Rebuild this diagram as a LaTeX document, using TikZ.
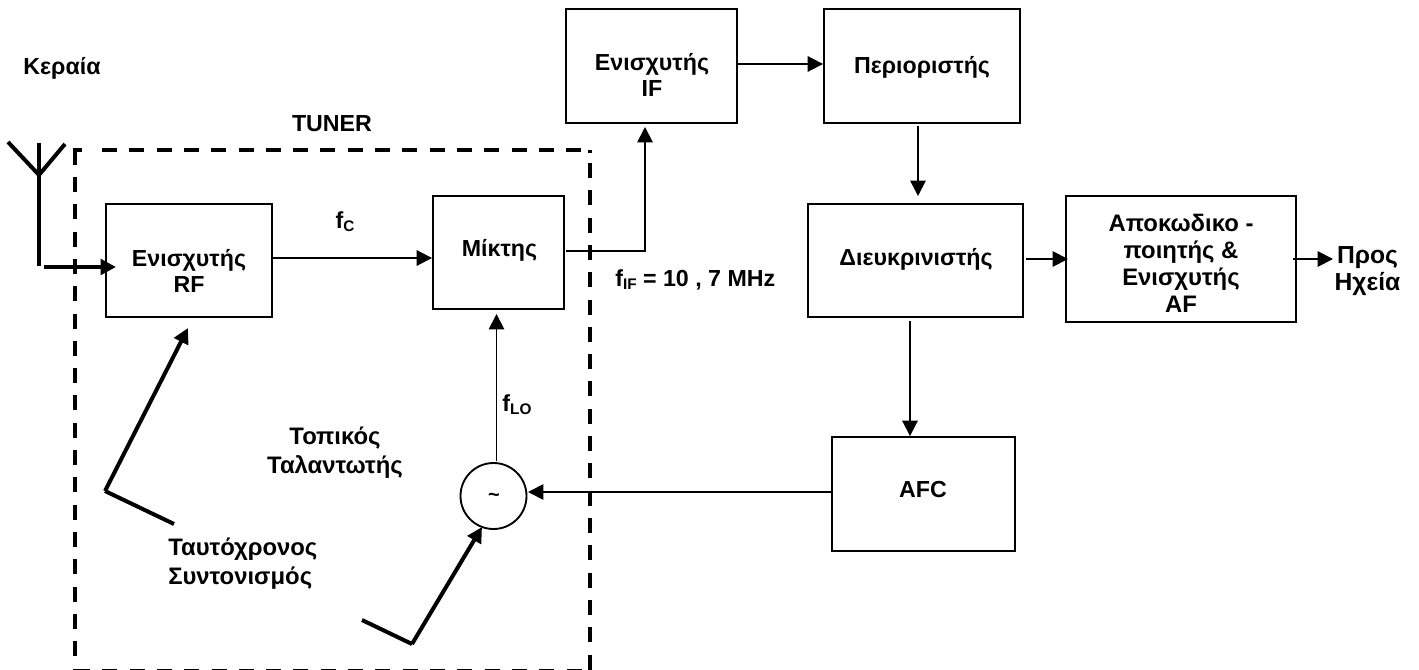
\documentclass[tikz,border=0pt]{standalone}
\usepackage{fontspec}
\setmainfont{Liberation Sans}
\usetikzlibrary{arrows.meta}
\newcommand{\subs}[1]{\raisebox{-2.5pt}{\fontsize{11.5}{12}\selectfont #1}}
\tikzset{
  x=0.75pt,y=-0.75pt,
  lab/.style={font=\fontsize{17.4}{20}\selectfont\bfseries,align=center,inner sep=0pt},
  labwide/.style={font=\fontsize{17.9}{21.7}\selectfont\bfseries,align=center,inner sep=0pt},
  labdec/.style={font=\fontsize{17.9}{20.3}\selectfont\bfseries,align=center,inner sep=0pt},
  arr/.style={line width=1.4pt,-{Triangle[length=11.5pt,width=11.5pt]}},
  thickarr/.style={line width=3pt,-{Triangle[length=11.5pt,width=11.5pt]}},
  thickline/.style={line width=3pt},
  tunerline/.style={line width=3pt,dash pattern=on 11.25pt off 9.23pt},
  tunersolid/.style={line width=3pt},
}
\newcommand{\blk}[5]{\node[draw=black,line width=1.4pt,inner sep=0pt,minimum width=#3*0.75pt,minimum height=#4*0.75pt] (#5) at (#1,#2) {};}
\begin{document}
\begin{tikzpicture}
\useasboundingbox (0,0) rectangle (1419,670);
\clip (0,0) rectangle (1419,670);
% level coordinates
\coordinate (yB) at (0,258);
\coordinate (yD) at (0,64);
\coordinate (yE) at (0,492);
\coordinate (xI) at (910,0);
% blocks
\blk{189}{260.5}{166}{113}{rf}
\blk{498.5}{252.5}{131}{113}{mix}
\blk{651.5}{66}{171}{114}{ifa}
\blk{922}{66}{196}{114}{lim}
\blk{915.5}{260.5}{215}{113}{disc}
\blk{1181}{259}{230}{126}{dec}
\blk{923.5}{494}{183}{114}{afc}
\node[draw=black,line width=1.4pt,circle,minimum size=49.5pt,inner sep=0pt] (osc) at (493.5,496) {};
\node[font=\fontsize{15}{16}\selectfont\bfseries,inner sep=0pt] (tilde) at (494,497) {\char`\~};
% TUNER frame
\coordinate (c1) at (82,150);
\coordinate (c2) at (75,150);
\coordinate (c3) at (75,165);
\coordinate (t1) at (75,177);
\coordinate (t2) at (75,669);
\coordinate (t3) at (102,150);
\coordinate (t4) at (585,150);
\coordinate (t5) at (590,163);
\coordinate (t6) at (590,670);
\coordinate (t7) at (75,671);
\coordinate (t8) at (585,671);
\coordinate (d1) at (590,150);
\coordinate (d2) at (590,153.5);
\draw[tunersolid] (c1) -- (c2) -- (c3);
\draw[tunersolid] (d1) -- (d2);
\draw[tunerline] (t1) -- (t2);
\draw[tunerline] (t3) -- (t4);
\draw[tunerline] (t5) -- (t6);
\draw[tunerline] (t7) -- (t8);
% antenna
\coordinate (an1) at (8,142);
\coordinate (an2) at (39,175);
\coordinate (an3) at (65,144);
\coordinate (an4) at (39,143);
\coordinate (an5) at (39,266);
\coordinate (an6) at (44,267);
\coordinate (an7) at (116,267);
\draw[thickline] (an1) -- (an2) -- (an3);
\draw[thickline] (an4) -- (an5);
\draw[thickarr] (an6) -- (an7);
% connectors
\draw[arr] (rf.east |- yB) -- (mix.west |- yB);
\coordinate (ifin) at (645,127);
\coordinate (mixout) at (566,251);
\draw[arr] (mixout) -| (ifin);
\draw[arr] (ifa.east |- yD) -- (lim.west |- yD);
\coordinate (limout) at (918,126);
\coordinate (discin) at (918,196);
\draw[arr] (limout) -- (discin);
\coordinate (discout) at (1026,259);
\coordinate (decin) at (1068,259);
\draw[arr] (discout) -- (decin);
\coordinate (decout) at (1293,259);
\coordinate (spk) at (1333,259);
\draw[arr] (decout) -- (spk);
\coordinate (discout2) at (910,321);
\draw[arr] (discout2) -- (afc.north -| xI);
\coordinate (oscin) at (528,492);
\draw[arr] (afc.west |- yE) -- (oscin);
\coordinate (oscout) at (496.5,461);
\coordinate (mixin) at (496.5,314);
\draw[arr] (oscout) -- (mixin);
% tuning lines
\coordinate (k1) at (105,491);
\coordinate (k2) at (188,328);
\coordinate (k3) at (174,524);
\coordinate (k4) at (412,644);
\coordinate (k5) at (482,527);
\coordinate (k6) at (362,620);
\draw[thickarr] (k1) -- (k2);
\draw[thickline] (k1) -- (k3);
\draw[thickarr] (k4) -- (k5);
\draw[thickline] (k4) -- (k6);
% labels
\node[lab] (l1) at (62,68) {Κεραία};
\node[lab] (l2) at (332,124) {TUNER};
\node[lab] (l3) at (345,222) {f\subs{C}};
\node[lab] (l4) at (189,271) {Ενισχυτής\\RF};
\node[lab] (l5) at (499.5,250) {Μίκτης};
\node[lab] (l6) at (517,405) {f\subs{LO}};
\node[labwide] (l7) at (335,453) {Τοπικός\\Ταλαντωτής};
\node[labwide,align=left,anchor=west] (l8) at (168,564) {Ταυτόχρονος\\Συντονισμός};
\node[lab,anchor=west] (l9) at (615,280) {f\subs{IF} = 10 , 7 MHz};
\node[lab] (l10) at (652,75) {Ενισχυτής\\IF};
\node[lab] (l11) at (922,67) {Περιοριστής};
\node[lab] (l12) at (916,259) {Διευκρινιστής};
\node[labdec] (l13) at (1181,263) {Αποκωδικο -\\ποιητής \&\\Ενισχυτής\\AF};
\node[lab] (l14) at (923,490) {AFC};
\node[font=\fontsize{18.5}{20}\selectfont\bfseries,align=center,inner sep=0pt] (l15) at (1367.5,271) {Προς\\Ηχεία};
\end{tikzpicture}
\end{document}
